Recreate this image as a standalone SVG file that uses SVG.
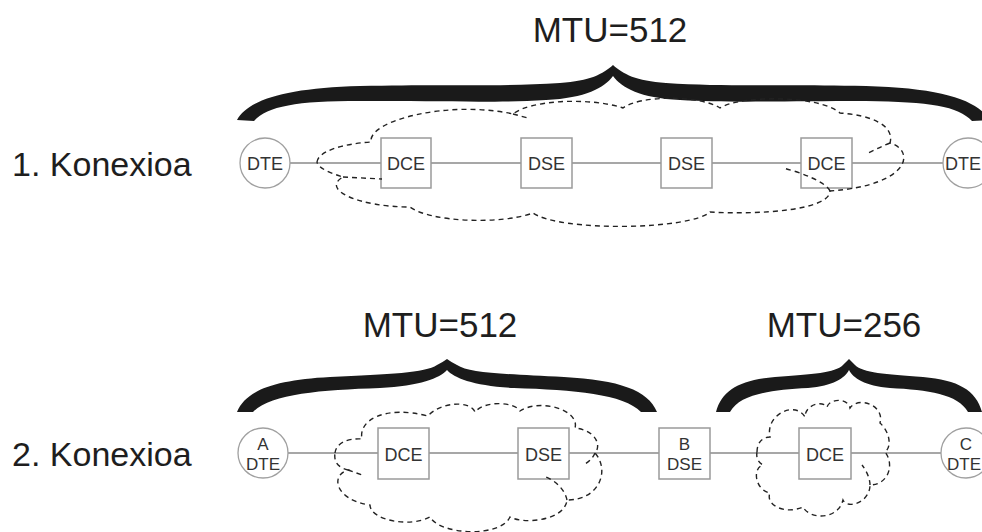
<svg xmlns="http://www.w3.org/2000/svg" width="982" height="532" viewBox="0 0 982 532">
<style>
.lbl{font-family:"Liberation Sans",Arial,sans-serif;fill:#1e1e1e}
.big{font-size:35px}
.row{font-size:34px}
.nt{font-size:18px;fill:#333;text-anchor:middle}
.nt2{font-size:17px;fill:#333;text-anchor:middle}
.box{fill:#fff;stroke:#9a9a9a;stroke-width:1.5}
.circ{fill:#fff;stroke:#a0a0a0;stroke-width:1.3}
.link{stroke:#8a8a8a;stroke-width:1.4;fill:none}
.cloud{fill:none;stroke:#222;stroke-width:1.4;stroke-dasharray:5 4}
.brace{fill:#1a1a1a;stroke:none}
</style>
<rect width="982" height="532" fill="#fff"/>

<!-- titles -->
<text class="lbl big" x="610" y="42" text-anchor="middle">MTU=512</text>
<text class="lbl big" x="440" y="337" text-anchor="middle">MTU=512</text>
<text class="lbl big" x="844" y="337" text-anchor="middle">MTU=256</text>
<text class="lbl row" x="12" y="176">1. Konexioa</text>
<text class="lbl row" x="12" y="466">2. Konexioa</text>

<!-- braces -->
<g id="braces">
<path class="brace" d="M 237,120 C 248,100 285,88 360,86 C 450,84 500,87 560,83 C 590,81 603,74 613,65 C 623,74 636,81 666,83 C 726,87 776,84 866,86 C 941,88 978,100 989,120 L 972,121 C 958,106 930,102 866,101 C 780,101 730,103 680,100 C 640,98 622,88 613,76 C 604,88 586,98 546,100 C 496,103 446,101 360,101 C 296,101 268,106 254,121 Z"/>
<path class="brace" d="M 237,412 C 246,390 275,380 330,377 C 390,374 425,373 437,365 Q 443,362 447,359 Q 451,362 457,365 C 469,373 504,374 564,377 C 619,380 648,390 657,412 L 641,412 C 624,394 574,390 514,388 C 474,386 454,378 447,370 C 440,378 420,386 380,388 C 320,390 270,394 253,412 Z"/>
<path class="brace" d="M 716,412 C 722,390 740,380 775,377 C 813,374 835,373 843,365 Q 846,362 849,359 Q 852,362 855,365 C 863,373 885,374 923,377 C 958,380 976,390 982,412 L 968,412 C 958,394 928,390 890,388 C 865,386 853,378 849,370 C 845,378 833,386 808,388 C 770,390 740,394 730,412 Z"/>
</g>

<!-- connectors -->
<g id="connectors">
<line class="link" x1="290" y1="163" x2="381" y2="163"/>
<line class="link" x1="431" y1="163" x2="521" y2="163"/>
<line class="link" x1="572" y1="163" x2="661" y2="163"/>
<line class="link" x1="712" y1="163" x2="801" y2="163"/>
<line class="link" x1="852" y1="163" x2="943" y2="163"/>
<line class="link" x1="288" y1="453" x2="378" y2="453"/>
<line class="link" x1="429" y1="453" x2="518" y2="453"/>
<line class="link" x1="569" y1="453" x2="659" y2="453"/>
<line class="link" x1="710" y1="453" x2="799" y2="453"/>
<line class="link" x1="851" y1="453" x2="941" y2="453"/>
</g>

<!-- nodes row 1 -->
<g id="r1-dte-a"><circle class="circ" cx="265" cy="163" r="25"/><text class="lbl nt" x="265" y="170">DTE</text></g>
<g id="r1-dce-a"><rect class="box" x="381" y="138" width="50" height="50"/><text class="lbl nt" x="406" y="170">DCE</text></g>
<g id="r1-dse-a"><rect class="box" x="521" y="138" width="51" height="50"/><text class="lbl nt" x="546.5" y="170">DSE</text></g>
<g id="r1-dse-b"><rect class="box" x="661" y="138" width="51" height="50"/><text class="lbl nt" x="686.5" y="170">DSE</text></g>
<g id="r1-dce-b"><rect class="box" x="801" y="138" width="51" height="50"/><text class="lbl nt" x="826.5" y="170">DCE</text></g>
<g id="r1-dte-b"><circle class="circ" cx="968" cy="163" r="25"/><text class="lbl" style="font-size:18px;fill:#333" x="981" y="170" text-anchor="end">DTE</text></g>

<!-- nodes row 2 -->
<g id="r2-a-dte"><circle class="circ" cx="263" cy="453" r="25"/><text class="lbl nt2" x="263" y="450">A</text><text class="lbl nt2" x="263" y="470">DTE</text></g>
<g id="r2-dce-a"><rect class="box" x="378" y="428" width="51" height="51"/><text class="lbl nt" x="403.5" y="461">DCE</text></g>
<g id="r2-dse-a"><rect class="box" x="518" y="428" width="51" height="51"/><text class="lbl nt" x="543.5" y="461">DSE</text></g>
<g id="r2-b-dse"><rect class="box" x="659" y="428" width="51" height="51"/><text class="lbl nt2" x="684.5" y="450">B</text><text class="lbl nt2" x="684.5" y="470">DSE</text></g>
<g id="r2-dce-b"><rect class="box" x="799" y="428" width="52" height="51"/><text class="lbl nt" x="825" y="461">DCE</text></g>
<g id="r2-c-dte"><circle class="circ" cx="966" cy="453" r="25"/><text class="lbl nt2" x="966" y="450">C</text><text class="lbl nt2" x="964" y="470">DTE</text></g>

<!-- clouds -->
<g id="cloud1">
<path class="cloud" d="M 317,162 C 318,152 340,144 371,142 C 368,120 450,100 513,114 C 530,100 590,97 623,108 C 640,95 700,95 720,108 C 740,95 820,95 840,113 C 870,115 895,125 890,143 C 915,150 912,185 830,191 C 830,210 760,215 710,212 C 690,230 560,232 533,213 C 500,225 430,222 410,207 C 360,207 320,190 343,177 C 330,173 318,168 317,162 Z"/>
<path class="cloud" d="M 343,177 L 382,179 M 513,114 L 528,118 M 830,191 C 826,182 800,172 783,168 M 890,143 C 882,146 875,150 868,153"/>
</g>
<g id="cloud2">
<path class="cloud" d="M 335,453 C 336,443 348,438 362,439 C 358,420 385,405 428,416 C 440,402 470,400 475,412 C 485,400 515,402 520,411 C 540,398 580,410 575,428 C 595,430 602,445 595,453 C 610,470 600,500 567,500 C 565,520 525,525 510,517 C 500,538 440,535 430,517 C 410,528 370,520 370,505 C 335,500 330,475 348,470 C 336,467 334,460 335,453 Z"/>
<path class="cloud" d="M 348,470 L 362,475 M 567,500 C 565,490 556,481 546,477 M 595,453 Q 592,460 585,464"/>
</g>
<g id="cloud3">
<path class="cloud" d="M 757,452 C 757,442 763,437 770,437 C 765,415 795,400 805,417 C 805,405 822,400 827,407 C 830,398 848,398 850,408 C 858,396 885,405 880,423 C 890,432 892,447 885,452 C 895,465 888,485 870,485 C 870,502 848,510 843,500 C 838,520 810,520 803,507 C 785,515 765,505 770,493 C 755,490 752,468 763,465 C 758,462 756,458 757,452 Z"/>
<path class="cloud" d="M 870,485 C 870,478 866,470 862,465"/>
</g>
</svg>
